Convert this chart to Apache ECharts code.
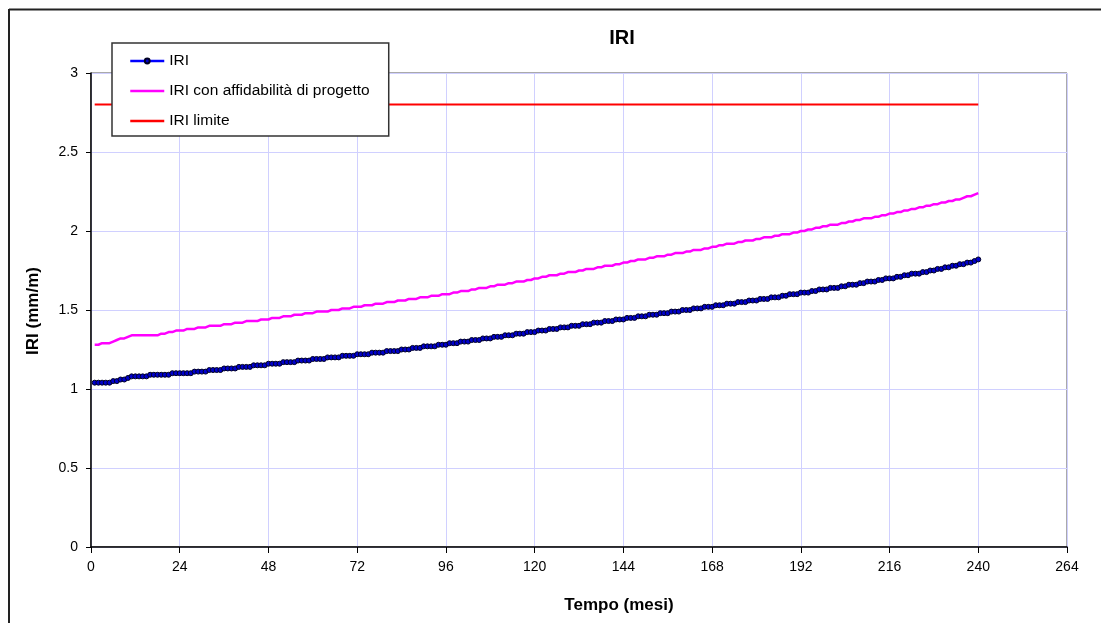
<!DOCTYPE html>
<html>
<head>
<meta charset="utf-8">
<script src="https://cdn.jsdelivr.net/npm/echarts@6/dist/echarts.min.js"></script>
<style>
html,body{margin:0;padding:0;background:#fff;}
#chart{width:1101px;height:623px;}
</style>
</head>
<body>
<div id="chart"></div>
<script>
// Series names
const seriesNames = ['IRI', 'IRI con affidabilità di progetto', 'IRI limite'];

// Monthly IRI values (months 1..240), one line per year
const iri = [
  1.04,1.04,1.04,1.04,1.04,1.05,1.05,1.06,1.06,1.07,1.08,1.08,
  1.08,1.08,1.08,1.09,1.09,1.09,1.09,1.09,1.09,1.10,1.10,1.10,
  1.10,1.10,1.10,1.11,1.11,1.11,1.11,1.12,1.12,1.12,1.12,1.13,
  1.13,1.13,1.13,1.14,1.14,1.14,1.14,1.15,1.15,1.15,1.15,1.16,
  1.16,1.16,1.16,1.17,1.17,1.17,1.17,1.18,1.18,1.18,1.18,1.19,
  1.19,1.19,1.19,1.20,1.20,1.20,1.20,1.21,1.21,1.21,1.21,1.22,
  1.22,1.22,1.22,1.23,1.23,1.23,1.23,1.24,1.24,1.24,1.24,1.25,
  1.25,1.25,1.26,1.26,1.26,1.27,1.27,1.27,1.27,1.28,1.28,1.28,
  1.29,1.29,1.29,1.30,1.30,1.30,1.31,1.31,1.31,1.32,1.32,1.32,
  1.33,1.33,1.33,1.34,1.34,1.34,1.35,1.35,1.35,1.36,1.36,1.36,
  1.37,1.37,1.37,1.38,1.38,1.38,1.39,1.39,1.39,1.40,1.40,1.40,
  1.41,1.41,1.41,1.42,1.42,1.42,1.43,1.43,1.43,1.44,1.44,1.44,
  1.45,1.45,1.45,1.46,1.46,1.46,1.47,1.47,1.47,1.48,1.48,1.48,
  1.49,1.49,1.49,1.50,1.50,1.50,1.51,1.51,1.51,1.52,1.52,1.52,
  1.53,1.53,1.53,1.54,1.54,1.54,1.55,1.55,1.55,1.56,1.56,1.56,
  1.57,1.57,1.57,1.58,1.58,1.58,1.59,1.59,1.60,1.60,1.60,1.61,
  1.61,1.61,1.62,1.62,1.63,1.63,1.63,1.64,1.64,1.64,1.65,1.65,
  1.66,1.66,1.66,1.67,1.67,1.68,1.68,1.68,1.69,1.69,1.70,1.70,
  1.70,1.71,1.71,1.72,1.72,1.73,1.73,1.73,1.74,1.74,1.75,1.75,
  1.76,1.76,1.77,1.77,1.78,1.78,1.79,1.79,1.80,1.80,1.81,1.82
];

// Monthly IRI with design reliability (months 1..240)
const iriAffidabilita = [
  1.28,1.28,1.29,1.29,1.29,1.30,1.31,1.32,1.32,1.33,1.34,1.34,
  1.34,1.34,1.34,1.34,1.34,1.34,1.35,1.35,1.36,1.36,1.37,1.37,
  1.37,1.38,1.38,1.38,1.39,1.39,1.39,1.40,1.40,1.40,1.40,1.41,
  1.41,1.41,1.42,1.42,1.42,1.43,1.43,1.43,1.43,1.44,1.44,1.44,
  1.45,1.45,1.45,1.46,1.46,1.46,1.47,1.47,1.47,1.48,1.48,1.48,
  1.49,1.49,1.49,1.49,1.50,1.50,1.50,1.51,1.51,1.51,1.52,1.52,
  1.52,1.53,1.53,1.53,1.54,1.54,1.54,1.55,1.55,1.55,1.56,1.56,
  1.56,1.57,1.57,1.57,1.58,1.58,1.58,1.59,1.59,1.59,1.60,1.60,
  1.60,1.61,1.61,1.62,1.62,1.62,1.63,1.63,1.64,1.64,1.64,1.65,
  1.65,1.66,1.66,1.66,1.67,1.67,1.68,1.68,1.68,1.69,1.69,1.70,
  1.70,1.71,1.71,1.72,1.72,1.72,1.73,1.73,1.74,1.74,1.74,1.75,
  1.75,1.76,1.76,1.76,1.77,1.77,1.78,1.78,1.78,1.79,1.79,1.80,
  1.80,1.81,1.81,1.82,1.82,1.82,1.83,1.83,1.84,1.84,1.84,1.85,
  1.85,1.86,1.86,1.86,1.87,1.87,1.88,1.88,1.88,1.89,1.89,1.90,
  1.90,1.91,1.91,1.92,1.92,1.92,1.93,1.93,1.94,1.94,1.94,1.95,
  1.95,1.96,1.96,1.96,1.97,1.97,1.98,1.98,1.98,1.99,1.99,2.00,
  2.00,2.01,2.01,2.02,2.02,2.03,2.03,2.04,2.04,2.04,2.05,2.05,
  2.06,2.06,2.07,2.07,2.08,2.08,2.08,2.09,2.09,2.10,2.10,2.11,
  2.11,2.12,2.12,2.13,2.13,2.14,2.14,2.15,2.15,2.16,2.16,2.17,
  2.17,2.18,2.18,2.19,2.19,2.20,2.20,2.21,2.22,2.22,2.23,2.24
];

// IRI limit (constant line)
const limiteMonths = [1, 240];
const limiteValues = [2.8, 2.8];

// Month index 1..240
const months = [];
for (let i = 1; i <= iri.length; i++) months.push(i);

// Axis settings
const xMin = 0, xMax = 264, xInterval = 24;
const yMin = 0, yMax = 3, yInterval = 0.5;

const FONT = '"Liberation Sans", Arial, sans-serif';

const chart = echarts.init(document.getElementById('chart'), null, {renderer: 'canvas'});

const option = {
  animation: false,
  backgroundColor: '#fff',
  textStyle: {fontFamily: FONT},
  grid: {
    left: 91, right: 34, top: 73, bottom: 76,
    show: true, borderColor: '#555', borderWidth: 1, backgroundColor: 'transparent'
  },
  legend: {
    orient: 'vertical',
    left: 112, top: 43,
    padding: [10, 19, 7, 17],
    itemGap: 14,
    itemWidth: 34,
    itemHeight: 6,
    backgroundColor: '#fff',
    borderColor: '#333',
    borderWidth: 1.5,
    borderRadius: 0,
    lineStyle: {width: 2.5},
    textStyle: {fontFamily: FONT, fontSize: 15.5, color: '#000', padding: [0,0,0,0]},
    data: [
      {name: seriesNames[0]},
      {name: seriesNames[1], itemStyle: {opacity: 0}},
      {name: seriesNames[2], itemStyle: {opacity: 0}}
    ]
  },
  xAxis: {
    type: 'value',
    min: xMin, max: xMax, interval: xInterval,
    axisLine: {show: true, onZero: false, lineStyle: {color: '#000', width: 1.5}},
    axisTick: {show: true, inside: false, length: 6, lineStyle: {color: '#000', width: 1}},
    axisLabel: {fontFamily: FONT, fontSize: 14, color: '#000', margin: 13},
    splitLine: {show: true, lineStyle: {color: '#d0d0ff', width: 1}}
  },
  yAxis: {
    type: 'value',
    min: yMin, max: yMax, interval: yInterval,
    axisLine: {show: true, lineStyle: {color: '#000', width: 1.5}},
    axisTick: {show: true, inside: false, length: 5, lineStyle: {color: '#000', width: 1}},
    axisLabel: {fontFamily: FONT, fontSize: 14, color: '#000', margin: 13},
    splitLine: {show: true, lineStyle: {color: '#d0d0ff', width: 1}}
  },
  graphic: [
    {type: 'line', silent: true, shape: {x1: 9, y1: 9.5, x2: 1101, y2: 9.5}, style: {stroke: '#222', lineWidth: 2}},
    {type: 'line', silent: true, shape: {x1: 9, y1: 9, x2: 9, y2: 623}, style: {stroke: '#222', lineWidth: 2}},
    {type: 'text', silent: true, x: 622, y: 38,
      style: {text: 'IRI', fontFamily: FONT, fontSize: 20, fontWeight: 'bold', fill: '#000', textAlign: 'center', textVerticalAlign: 'middle'}},
    {type: 'text', silent: true, x: 619, y: 605,
      style: {text: 'Tempo (mesi)', fontFamily: FONT, fontSize: 17, fontWeight: 'bold', fill: '#000', textAlign: 'center', textVerticalAlign: 'middle'}},
    {type: 'text', silent: true, x: 33, y: 311, rotation: Math.PI / 2,
      style: {text: 'IRI (mm/m)', fontFamily: FONT, fontSize: 17, fontWeight: 'bold', fill: '#000', textAlign: 'center', textVerticalAlign: 'middle'}}
  ],
  series: [
    {
      name: seriesNames[0],
      type: 'line',
      data: iri.map((v, i) => [months[i], v]),
      symbol: 'circle',
      symbolSize: 5,
      showAllSymbol: true,
      lineStyle: {color: '#0000ff', width: 2},
      itemStyle: {color: '#0000cc', borderColor: '#000022', borderWidth: 1},
      z: 4
    },
    {
      name: seriesNames[1],
      type: 'line',
      data: iriAffidabilita.map((v, i) => [months[i], v]),
      showSymbol: false,
      symbol: 'none',
      lineStyle: {color: '#ff00ff', width: 2.5},
      itemStyle: {color: '#ff00ff'},
      z: 3
    },
    {
      name: seriesNames[2],
      type: 'line',
      data: limiteValues.map((v, i) => [limiteMonths[i], v]),
      showSymbol: false,
      symbol: 'none',
      lineStyle: {color: '#ff0000', width: 2},
      itemStyle: {color: '#ff0000'},
      z: 3
    }
  ]
};

chart.setOption(option);
</script>
</body>
</html>
